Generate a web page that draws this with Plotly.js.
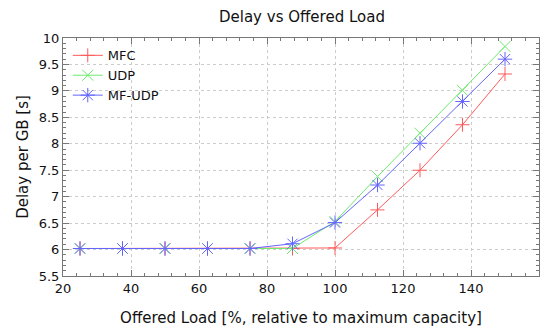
<!DOCTYPE html>
<html><head><meta charset="utf-8">
<script src="https://cdn.plot.ly/plotly-3.0.1.min.js"></script>
<style>html,body{margin:0;padding:0;background:#fff}#chart{width:548px;height:327px}</style>
</head><body><div id="chart"></div>
<script>
const load = [25, 37.5, 50, 62.5, 75, 87.5, 100, 112.5, 125, 137.5, 150];
const mfc = [6.02, 6.02, 6.02, 6.02, 6.02, 6.02, 6.03, 6.75, 7.5, 8.36, 9.32];
const udp = [6.02, 6.02, 6.02, 6.02, 6.02, 6.02, 6.53, 7.38, 8.2, 9.01, 9.84];
const mfudp = [6.02, 6.02, 6.02, 6.02, 6.02, 6.11, 6.51, 7.22, 8.01, 8.8, 9.6];
const names = ["MFC", "UDP", "MF-UDP"];

const font = "Tahoma, 'DejaVu Sans', Verdana, sans-serif";
const traces = [
  {x: load, y: mfc, name: names[0], mode: "lines+markers",
   line: {color: "rgb(255,90,90)", width: 1},
   marker: {symbol: "cross-thin-open", size: 10, line: {color: "rgb(255,70,70)", width: 1}}},
  {x: load, y: udp, name: names[1], mode: "lines+markers",
   line: {color: "rgb(110,235,110)", width: 1},
   marker: {symbol: "x-thin-open", size: 11, line: {color: "rgb(90,230,90)", width: 1}}},
  {x: load, y: mfudp, name: names[2], mode: "lines+markers",
   line: {color: "rgb(100,100,255)", width: 1},
   marker: {symbol: "asterisk-open", size: 12, line: {color: "rgb(80,80,255)", width: 1}}}
];
const axisCommon = {
  showline: true, mirror: "ticks", linecolor: "#777", linewidth: 1,
  ticks: "inside", ticklen: 6, tickcolor: "#777",
  showgrid: true, gridcolor: "#ccc", griddash: "dot", gridwidth: 1,
  zeroline: false, tickfont: {family: font, size: 13, color: "#111"}
};
const layout = {
  width: 548, height: 327,
  margin: {l: 63, r: 9, t: 38, b: 51},
  paper_bgcolor: "#fff", plot_bgcolor: "#fff",
  title: {text: "Delay vs Offered Load", font: {family: font, size: 15, color: "#111"},
          xref: "container", yref: "container", x: 0.551, xanchor: "center", y: 0.948, yanchor: "middle"},
  xaxis: Object.assign({}, axisCommon, {
    range: [20, 160], dtick: 20, tick0: 20,
    minor: {dtick: 4, ticks: "inside", ticklen: 3, tickcolor: "#777", showgrid: false},
    title: {text: "Offered Load [%, relative to maximum capacity]", font: {family: font, size: 15, color: "#111"}, standoff: 18}
  }),
  yaxis: Object.assign({}, axisCommon, {
    range: [5.5, 10], dtick: 0.5, tick0: 5.5,
    minor: {dtick: 0.1, ticks: "inside", ticklen: 3, tickcolor: "#777", showgrid: false},
    title: {text: "Delay per GB [s]", font: {family: font, size: 15, color: "#111"}, standoff: 6}
  }),
  showlegend: true,
  legend: {x: 0.01, y: 0.99, xanchor: "left", yanchor: "top", bgcolor: "rgba(255,255,255,0)",
           font: {family: font, size: 13, color: "#111"}, tracegroupgap: 0, itemwidth: 30}
};
Plotly.newPlot("chart", traces, layout, {displayModeBar: false, staticPlot: true});
</script></body></html>
